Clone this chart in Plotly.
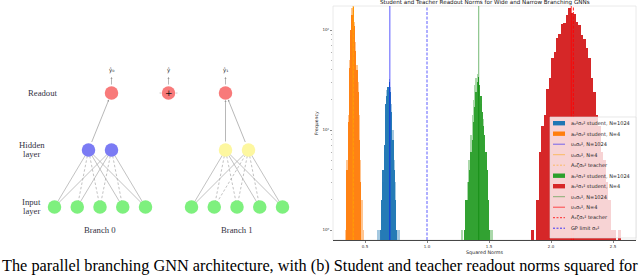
import plotly.graph_objects as go

W, H = 640, 277

# ---------------- histogram data (bin centres and counts) ----------------
orange_x = [0.355, 0.365, 0.375, 0.385, 0.395, 0.405, 0.415, 0.425, 0.435, 0.445, 0.455, 0.465]
orange_n = [4, 12, 42, 100, 140, 170, 110, 62, 40, 24, 8, 3]
orange_light_x = [0.345, 0.355, 0.365, 0.375, 0.385, 0.395, 0.405, 0.415, 0.425, 0.435,
                  0.445, 0.455, 0.465, 0.475, 0.485]
orange_light_n = [1, 5, 14, 50, 90, 165, 180, 120, 75, 45, 30, 14, 5, 2, 1]

blue_x = [0.625, 0.635, 0.645, 0.655, 0.665, 0.675, 0.685, 0.695, 0.705, 0.715, 0.725,
          0.735, 0.745, 0.755]
blue_n = [1, 2, 4, 7, 18, 22, 27, 30, 24, 15, 8, 4, 2, 1]
blue_light_x = [0.605, 0.615, 0.625, 0.635, 0.645, 0.655, 0.665, 0.675, 0.685, 0.695,
                0.705, 0.715, 0.725, 0.735, 0.745, 0.755, 0.765, 0.775]
blue_light_n = [1, 1, 0, 2, 3, 6, 14, 25, 24, 32, 27, 18, 10, 5, 3, 1, 1, 1]

green_x = [1.295, 1.305, 1.315, 1.325, 1.335, 1.345, 1.355, 1.365, 1.375, 1.385, 1.395,
           1.405, 1.415, 1.425, 1.435, 1.445, 1.455, 1.465, 1.475, 1.485, 1.495, 1.505]
green_n = [0, 1, 2, 2, 3, 4, 6, 8, 12, 17, 24, 30, 34, 28, 22, 15, 11, 9, 6, 4, 2, 1]
green_light_x = [1.275, 1.285, 1.295, 1.305, 1.315, 1.325, 1.335, 1.345, 1.355, 1.365,
                 1.375, 1.385, 1.395, 1.405, 1.415, 1.425, 1.435, 1.445, 1.455, 1.465,
                 1.475, 1.485, 1.495, 1.505, 1.515, 1.525]
green_light_n = [1, 1, 0, 1, 2, 3, 5, 5, 9, 14, 20, 28, 33, 36, 30, 25, 18, 14, 13, 7,
                 5, 4, 2, 1, 1, 1]

red_x = [1.85, 1.87, 1.89, 1.91, 1.93, 1.95, 1.97, 1.99, 2.01, 2.03, 2.05, 2.07, 2.09,
         2.11, 2.13, 2.15, 2.17, 2.19, 2.21, 2.23, 2.25, 2.27, 2.29, 2.31, 2.33, 2.35,
         2.37, 2.39, 2.41, 2.43, 2.45, 2.47, 2.49, 2.51, 2.53, 2.55]
red_n = [1, 0, 2, 6, 11, 14, 26, 33, 52, 60, 84, 92, 115, 118, 140, 165, 148, 145, 120,
         112, 90, 82, 66, 52, 33, 24, 14, 11, 6, 5, 3, 2, 1, 1, 0, 1]

# vertical reference lines
line_u0_1024 = 0.70
line_u0_4 = 0.403
line_A0_teacher = 0.407
line_u1_1024 = 1.417
line_u1_4 = 2.163
line_A1_teacher = 2.18
line_gp = 1.0

x_ticks = [0.5, 1.0, 1.5, 2.0, 2.5]
x_tick_labels = ["0.5", "1.0", "1.5", "2.0", "2.5"]
y_ticks = [1, 10, 100]
y_tick_labels = ["10⁰", "10¹", "10²"]
y_minor = [2, 3, 4, 5, 6, 7, 8, 9, 20, 30, 40, 50, 60, 70, 80, 90, 200]

legend_labels = ["a₀²σ₀² student, N=1024", "a₀²σ₀² student, N=4", "υ₀σ₀², N=1024",
                 "υ₀σ₀², N=4", "A₀ζσ₀² teacher", "a₁²σ₁² student, N=1024",
                 "a₁²σ₁² student, N=4", "υ₁σ₁², N=1024", "υ₁σ₁², N=4",
                 "A₁ζσ₁² teacher", "GP limit σ₀²"]

caption = ("The parallel branching GNN architecture, with (b) Student and teacher "
           "readout norms squared for")

# ---------------- colours ----------------
C_BLUE = "#1f77b4"
C_ORANGE = "#ff7f0e"
C_GREEN = "#2ca02c"
C_RED = "#d62728"

fig = go.Figure()

# ---------------- main axes geometry (pixels) ----------------
PL, PR, PT, PB = 333, 636, 6, 240


def px(xp):
    return xp / W


def py(yp):
    return 1 - yp / H


hist_series = [
    (orange_light_x, orange_light_n, 0.01, C_ORANGE, 0.45),
    (orange_x, orange_n, 0.01, C_ORANGE, 0.95),
    (blue_light_x, blue_light_n, 0.01, C_BLUE, 0.4),
    (blue_x, blue_n, 0.01, C_BLUE, 0.95),
    (green_light_x, green_light_n, 0.01, C_GREEN, 0.4),
    (green_x, green_n, 0.01, C_GREEN, 0.95),
    (red_x, red_n, 0.02, C_RED, 1.0),
]
for xs, ns, w, c, op in hist_series:
    fig.add_trace(go.Bar(x=xs, y=ns, width=w, marker=dict(color=c, line=dict(width=0)),
                         opacity=op, showlegend=False, xaxis="x", yaxis="y"))

vlines = [
    (line_u0_1024, "rgba(0,0,255,0.5)", "solid", 1.3),
    (line_u0_4, "rgba(255,165,0,0.55)", "solid", 1.0),
    (line_A0_teacher, "rgba(255,165,0,0.55)", "dash", 1.0),
    (line_u1_1024, "rgba(0,128,0,0.55)", "solid", 1.0),
    (line_u1_4, "rgba(255,0,0,0.8)", "solid", 1.0),
    (line_A1_teacher, "rgba(255,0,0,0.9)", "dash", 1.0),
    (line_gp, "rgba(0,0,255,0.8)", "dash", 0.8),
]
shapes = []
shapes.append(dict(type="rect", xref="paper", yref="paper", x0=px(PL), x1=px(PR),
                   y0=py(PB), y1=py(PT), line=dict(color="#e4e4e4", width=0.8),
                   layer="below"))
for v, c, d, wd in vlines:
    shapes.append(dict(type="line", xref="x", yref="y domain", x0=v, x1=v, y0=0, y1=1,
                       line=dict(color=c, width=wd, dash="3px,1.5px" if d == "dash" else "solid"),
                       layer="above"))

# manual legend
LB_L, LB_R, LB_T, LB_B = 550, 636, 117, 238
shapes.append(dict(type="rect", xref="paper", yref="paper", x0=px(LB_L), x1=px(LB_R),
                   y0=py(LB_B), y1=py(LB_T), fillcolor="rgba(255,255,255,0.8)",
                   line=dict(color="#d8d8d8", width=0.6), layer="above"))
legend_styles = [
    ("patch", C_BLUE), ("patch", C_ORANGE), ("line", "rgba(0,0,255,0.6)"),
    ("line", "rgba(255,165,0,0.6)"), ("dash", "rgba(255,165,0,0.6)"),
    ("patch", C_GREEN), ("patch", C_RED), ("line", "rgba(0,128,0,0.5)"),
    ("line", "rgba(255,0,0,0.75)"), ("dash", "rgba(255,0,0,0.9)"),
    ("dash", "rgba(0,0,255,0.85)"),
]
annotations = []
for i, (lab, (kind, col)) in enumerate(zip(legend_labels, legend_styles)):
    yc = 123.2 + 10.5 * i
    if kind == "patch":
        shapes.append(dict(type="rect", xref="paper", yref="paper", x0=px(553), x1=px(565),
                           y0=py(yc + 2.2), y1=py(yc - 2.2), fillcolor=col,
                           line=dict(width=0), layer="above"))
    else:
        shapes.append(dict(type="line", xref="paper", yref="paper", x0=px(553), x1=px(565),
                           y0=py(yc), y1=py(yc),
                           line=dict(color=col, width=0.9,
                                     dash="2px,1.5px" if kind == "dash" else "solid"),
                           layer="above"))
    annotations.append(dict(text=lab, xref="paper", yref="paper", x=px(569), y=py(yc),
                            xanchor="left", yanchor="middle", showarrow=False,
                            font=dict(family="DejaVu Sans", size=5.0, color="#222")))

annotations.append(dict(text="Student and Teacher Readout Norms for Wide and Narrow Branching GNNs",
                        xref="paper", yref="paper", x=px((PL + PR) / 2), y=py(2.6),
                        xanchor="center", yanchor="middle", showarrow=False,
                        font=dict(family="DejaVu Sans", size=5.6, color="#111")))
annotations.append(dict(text="Squared Norms", xref="paper", yref="paper",
                        x=px((PL + PR) / 2), y=py(252), xanchor="center", yanchor="middle",
                        showarrow=False, font=dict(family="DejaVu Sans", size=4.8, color="#222")))
annotations.append(dict(text="Frequency", xref="paper", yref="paper", x=px(316), y=py(123),
                        xanchor="center", yanchor="middle", textangle=-90, showarrow=False,
                        font=dict(family="DejaVu Sans", size=4.6, color="#222")))

# ---------------- diagram (left panel, pixel-like coordinates) ----------------
Y_READ, Y_HID, Y_IN = 93, 150, 207
branch_centres = [100, 237]
input_step = 22.75
hidden_half = 11.5
n_inputs = 5
edge_styles = [
    [["s", "d", "d", "s", "s"], ["s", "s", "d", "d", "s"]],
    [["s", "d", "d", "s", "s"], ["s", "d", "d", "d", "s"]],
]
readout_links = [[0], [0, 1]]
readout_side = [1, 0]

input_pos, hidden_pos, readout_pos = [], [], []
for b, c in enumerate(branch_centres):
    input_pos.append([(c + (k - (n_inputs - 1) / 2) * input_step, Y_IN) for k in range(n_inputs)])
    hidden_pos.append([(c - hidden_half, Y_HID), (c + hidden_half, Y_HID)])
    readout_pos.append((hidden_pos[b][readout_side[b]][0], Y_READ))
sum_pos = ((readout_pos[0][0] + readout_pos[1][0]) / 2, Y_READ)

sx, sy, dx, dy = [], [], [], []
for b in range(2):
    for h in range(2):
        for k in range(n_inputs):
            x0, y0 = input_pos[b][k]
            x1, y1 = hidden_pos[b][h]
            if edge_styles[b][h][k] == "s":
                sx += [x0, x1, None]; sy += [y0, y1, None]
            else:
                dx += [x0, x1, None]; dy += [y0, y1, None]
fig.add_trace(go.Scatter(x=sx, y=sy, mode="lines", line=dict(color="#a8a8a8", width=0.7),
                         xaxis="x2", yaxis="y2", showlegend=False, hoverinfo="skip"))
fig.add_trace(go.Scatter(x=dx, y=dy, mode="lines",
                         line=dict(color="#a8a8a8", width=0.7, dash="2.5px,2px"),
                         xaxis="x2", yaxis="y2", showlegend=False, hoverinfo="skip"))

for b in range(2):
    for h in readout_links[b]:
        hx, hy = hidden_pos[b][h]
        rx, ry = readout_pos[b]
        ddx, ddy = rx - hx, ry - hy
        L = (ddx ** 2 + ddy ** 2) ** 0.5
        annotations.append(dict(x=rx - ddx / L * 7, y=ry - ddy / L * 7,
                                ax=hx + ddx / L * 7, ay=hy + ddy / L * 7,
                                xref="x2", yref="y2", axref="x2", ayref="y2", text="",
                                showarrow=True, arrowhead=2, arrowsize=0.6, arrowwidth=0.7,
                                arrowcolor="#999"))
out_labels = ["ŷ₀", "ŷ", "ŷ₁"]
for (ox, oy), lab in zip([readout_pos[0], sum_pos, readout_pos[1]], out_labels):
    annotations.append(dict(x=ox, y=oy - 16, ax=ox, ay=oy - 7, xref="x2", yref="y2",
                            axref="x2", ayref="y2", text="", showarrow=True, arrowhead=2,
                            arrowsize=0.6, arrowwidth=0.7, arrowcolor="#999"))
    annotations.append(dict(x=ox, y=oy - 23, xref="x2", yref="y2", text=lab,
                            showarrow=False, font=dict(family="DejaVu Sans", size=5.5,
                                                       color="#333")))
for side in (-1, 1):
    annotations.append(dict(x=sum_pos[0] + side * 7, y=Y_READ, ax=sum_pos[0] + side * 11,
                            ay=Y_READ, xref="x2", yref="y2", axref="x2", ayref="y2", text="",
                            showarrow=True, arrowhead=2, arrowsize=0.5, arrowwidth=0.5,
                            arrowcolor="#ccc"))

node_groups = [
    ([p for b in range(2) for p in input_pos[b]], "#7ef07e"),
    (hidden_pos[0], "#7b7bf4"),
    (hidden_pos[1], "#fdf7a0"),
    (readout_pos + [sum_pos], "#f87a7a"),
]
for pts, col in node_groups:
    fig.add_trace(go.Scatter(x=[p[0] for p in pts], y=[p[1] for p in pts], mode="markers",
                             marker=dict(size=13.5, color=col, line=dict(width=0)),
                             xaxis="x2", yaxis="y2", showlegend=False, hoverinfo="skip"))
annotations.append(dict(x=sum_pos[0], y=sum_pos[1], xref="x2", yref="y2", text="+",
                        showarrow=False, font=dict(family="DejaVu Sans", size=9, color="#111")))

serif = "Liberation Serif"
lab_col = "#333344"
for txt, x, y in [("Readout", 42.7, Y_READ), ("Hidden", 31.7, 145), ("layer", 31.7, 154.3),
                  ("Input", 31.7, 201.7), ("layer", 31.7, 211),
                  ("Branch 0", branch_centres[0], 230), ("Branch 1", branch_centres[1], 230)]:
    annotations.append(dict(x=x, y=y, xref="x2", yref="y2", text=txt, showarrow=False,
                            font=dict(family=serif, size=8.7, color=lab_col)))

annotations.append(dict(text=caption, xref="paper", yref="paper", x=0.0, y=py(265.5),
                        xanchor="left", yanchor="middle", showarrow=False,
                        font=dict(family=serif, size=16.3, color="#000")))

fig.update_layout(
    width=W, height=H, margin=dict(l=0, r=0, t=0, b=0),
    paper_bgcolor="white", plot_bgcolor="white",
    barmode="overlay", bargap=0,
    showlegend=False,
    xaxis=dict(domain=[px(PL), px(PR)], range=[0.242, 2.685], tickvals=x_ticks,
               ticktext=x_tick_labels, ticks="outside", ticklen=2, tickwidth=0.6,
               tickcolor="#333", showgrid=False, zeroline=False, showline=True,
               linecolor="#333", linewidth=0.9,
               tickfont=dict(family="DejaVu Sans", size=4, color="#333")),
    yaxis=dict(domain=[py(PB), py(PT)], type="log", range=[-0.1, 2.24], tickvals=y_ticks,
               ticktext=y_tick_labels, ticks="outside", ticklen=2, tickwidth=0.6,
               tickcolor="#444", showgrid=False, zeroline=False, showline=False,
               minor=dict(tickvals=y_minor, ticks="outside", ticklen=1.2, tickwidth=0.5,
                          tickcolor="#666"),
               tickfont=dict(family="DejaVu Sans", size=4, color="#333")),
    xaxis2=dict(domain=[0, 0.5], range=[0, 320], visible=False, anchor="y2"),
    yaxis2=dict(domain=[0, 1], range=[H, 0], visible=False, anchor="x2"),
    shapes=shapes, annotations=annotations,
)

fig.write_html("out.html", config={"displayModeBar": False, "staticPlot": True},
               post_script="document.body.style.margin='0';document.body.style.overflow='hidden';")
